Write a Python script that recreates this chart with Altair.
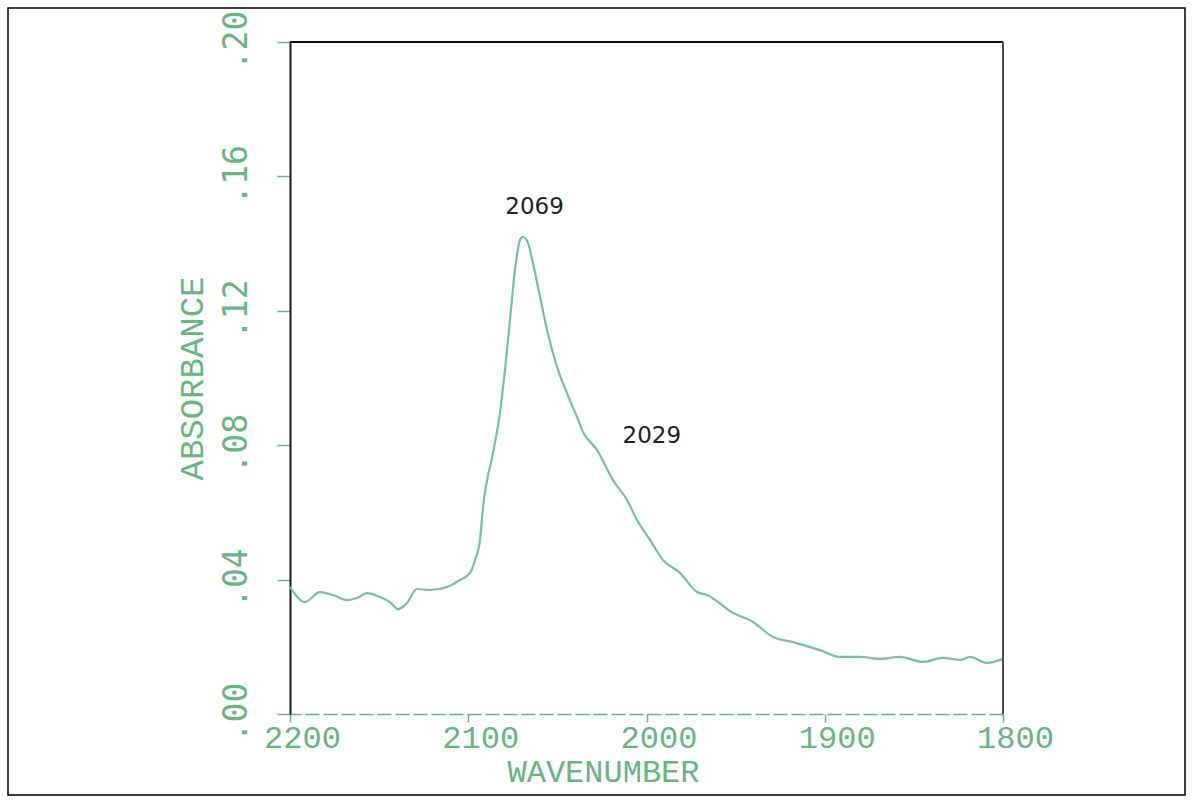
import altair as alt
import pandas as pd

# IR absorbance spectrum (wavenumber in cm^-1, absorbance units)
wavenumber = [
    2200.0, 2191.6, 2183.2, 2175.9, 2168.0, 2162.4, 2156.8, 2149.5, 2143.9, 2139.4,
    2134.4, 2128.8, 2121.5, 2111.9, 2104.6, 2099.0, 2096.2, 2093.4, 2091.7, 2086.1,
    2082.2, 2079.4, 2076.6, 2073.8, 2071.0, 2069.3, 2066.5, 2063.7, 2059.7, 2055.8,
    2050.2, 2044.6, 2039.0, 2035.6, 2027.8, 2018.8, 2010.9, 2005.3, 1998.0, 1990.7,
    1981.2, 1971.7, 1966.1, 1951.5, 1940.3, 1929.0, 1917.8, 1902.7, 1891.4, 1880.2,
    1869.0, 1857.8, 1844.9, 1833.7, 1824.1, 1818.5, 1808.9, 1800.0,
]
absorbance = [
    0.0378, 0.0333, 0.0363, 0.0354, 0.0339, 0.0345, 0.0360, 0.0348, 0.0333, 0.0312,
    0.0330, 0.0372, 0.0369, 0.0378, 0.0399, 0.0420, 0.0458, 0.0518, 0.0616, 0.0777,
    0.0896, 0.1024, 0.1173, 0.1321, 0.1411, 0.1420, 0.1402, 0.1342, 0.1241, 0.1143,
    0.1033, 0.0955, 0.0884, 0.0839, 0.0786, 0.0696, 0.0637, 0.0577, 0.0518, 0.0458,
    0.0420, 0.0363, 0.0354, 0.0301, 0.0274, 0.0229, 0.0214, 0.0190, 0.0170, 0.0170,
    0.0164, 0.0170, 0.0155, 0.0167, 0.0161, 0.0170, 0.0152, 0.0164,
]

# Band assignments marked on the spectrum
band_wavenumber = [2069, 2029]
band_absorbance = [0.1420, 0.0786]
band_label = ["2069", "2029"]

x_ticks = [2200, 2100, 2000, 1900, 1800]
y_ticks = [0.00, 0.04, 0.08, 0.12, 0.16, 0.20]

GREEN = "#67b583"
CURVE = "#78c29f"

spectrum = pd.DataFrame({"wn": wavenumber, "a": absorbance})
bands = pd.DataFrame({"wn": band_wavenumber, "a": band_absorbance, "label": band_label})

x_scale = alt.Scale(domain=[1800, 2200], reverse=True, nice=False, zero=False)
y_scale = alt.Scale(domain=[0, 0.2], nice=False)

x_axis = alt.Axis(
    values=x_ticks,
    format="d",
    title="WAVENUMBER",
    grid=False,
    domainColor=GREEN,
    domainWidth=1.5,
    domainDash=[14, 4],
    tickColor=GREEN,
    tickSize=8,
    tickWidth=1.5,
    labelColor=GREEN,
    labelFont="Liberation Mono",
    labelFontSize=32,
    labelAlign="center",
    labelBaseline="top",
    labelPadding=0,
    labelOffset=12,
    labelFlush=False,
    labelOverlap=False,
    titleColor=GREEN,
    titleFont="Liberation Mono",
    titleFontSize=32,
    titleFontWeight="normal",
    titleAlign="center",
    titleBaseline="middle",
    titleX=313,
    titleY=57,
)

y_axis = alt.Axis(
    values=y_ticks,
    labelExpr="substring(format(datum.value, '.2f'), 1)",
    title="ABSORBANCE",
    grid=False,
    domainColor="#1a1a1a",
    domainWidth=2,
    tickColor=GREEN,
    tickSize=13,
    tickWidth=1.5,
    labelColor=GREEN,
    labelFont="DejaVu Sans Mono",
    labelFontSize=33,
    labelAngle=270,
    labelAlign="center",
    labelBaseline="middle",
    labelPadding=41,
    labelOffset=-2,
    labelFlush=False,
    labelOverlap=False,
    titleColor=GREEN,
    titleFont="Liberation Mono",
    titleFontSize=34,
    titleFontWeight="normal",
    titleAngle=270,
    titleAlign="center",
    titleBaseline="middle",
    titleX=-98,
    titleY=336,
)

line = alt.Chart(spectrum).mark_line(
    color=CURVE, strokeWidth=2.2, interpolate="monotone"
).encode(
    x=alt.X("wn:Q", scale=x_scale, axis=x_axis),
    y=alt.Y("a:Q", scale=y_scale, axis=y_axis),
)

# Frame lines on the top and right of the plot
top_edge = alt.Chart(alt.Data(values=[{}])).mark_rule(
    color="#111111", strokeWidth=2
).encode(y=alt.datum(0.2, scale=y_scale))

right_edge = alt.Chart(alt.Data(values=[{}])).mark_rule(
    color="#4a4a58", strokeWidth=2
).encode(x=alt.datum(1800, scale=x_scale))

label_text = dict(font="DejaVu Sans", fontSize=23, color="#222222", align="center", baseline="middle")

label_main = alt.Chart(bands.iloc[[0]]).mark_text(dx=11, dy=-30, **label_text).encode(
    x=alt.X("wn:Q", scale=x_scale), y=alt.Y("a:Q", scale=y_scale), text="label:N"
)
label_shoulder = alt.Chart(bands.iloc[[1]]).mark_text(dx=57, dy=-14, **label_text).encode(
    x=alt.X("wn:Q", scale=x_scale), y=alt.Y("a:Q", scale=y_scale), text="label:N"
)

# Thin border round the whole figure
border = alt.Chart(alt.Data(values=[{}])).mark_rect(
    filled=False, stroke="#000000", strokeWidth=1.5
).encode(
    x=alt.value(-282), x2=alt.value(895), y=alt.value(-34), y2=alt.value(753)
)

chart = alt.layer(
    line, top_edge, right_edge, label_main, label_shoulder, border
).properties(
    width=713,
    height=672,
    autosize=alt.AutoSizeParams(type="none"),
    padding={"left": 290, "top": 42, "right": 189, "bottom": 89},
    background="white",
).configure_view(stroke=None)

chart.save("out.html", embed_options={"renderer": "svg", "actions": False})
